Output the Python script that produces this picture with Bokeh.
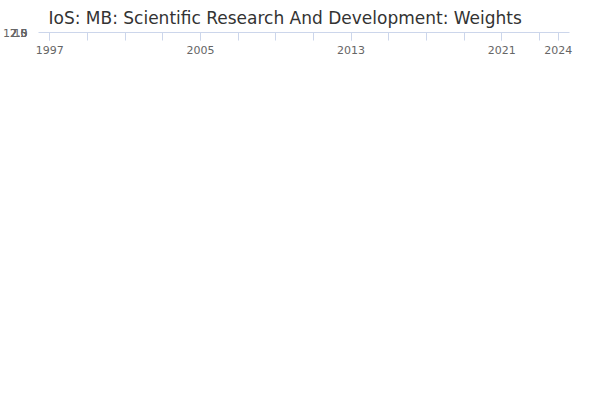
from bokeh.plotting import figure
from bokeh.embed import file_html
from bokeh.resources import INLINE
from bokeh.models import Legend, LegendItem, FixedTicker, Title, Range1d

years = list(range(1997, 2025))
values = [8.7, 8.2, 8.5, 7.6, 8.0, 9.6, 9.5, 10.2, 10.1, 9.7, 10.5, 10.8, 10.3, 11.7,
          10.7, 9.9, 7.9, 8.3, 8.7, 8.9, 8.6, 10.0, 9.8, 11.3, 10.6, 11.2, 11.2, 11.2]
xticks = [1997, 2005, 2013, 2021, 2024]
yticks = [0, 2.5, 5, 7.5, 10, 12.5]
ylabels = {0: "0", 2.5: "2.5", 5: "5", 7.5: "7.5", 10: "10", 12.5: "12.5"}
name = "IoS: MB: Scientific Research And Development: Weights"

p = figure(width=584, height=384, output_backend="svg", toolbar_location=None,
           x_range=Range1d(1996.4, 2024.6), y_range=Range1d(0, 12.9))
p.title.text = name
p.title.text_font = "DejaVu Sans"
p.title.text_font_size = "17px"
p.title.text_font_style = "normal"
p.title.text_color = "#333333"
p.title.offset = 10
r = p.line(years, values, line_color="#0a7cc1", line_width=2)
c = p.scatter(years, values, size=4, color="#0a7cc1")
p.xaxis.ticker = FixedTicker(ticks=xticks, minor_ticks=list(range(1997, 2025, 2)))
p.yaxis.ticker = FixedTicker(ticks=yticks)
p.yaxis.major_label_overrides = ylabels
p.xgrid.grid_line_color = None
p.ygrid.grid_line_color = "#e6e6e6"
p.yaxis.axis_line_color = None
p.yaxis.major_tick_line_color = None
p.yaxis.minor_tick_line_color = None
p.xaxis.axis_line_color = "#ccd6eb"
p.xaxis.major_tick_line_color = "#ccd6eb"
p.xaxis.minor_tick_line_color = "#ccd6eb"
p.xaxis.minor_tick_out = 8
p.xaxis.major_tick_out = 8
p.xaxis.minor_tick_in = 0
p.xaxis.major_tick_in = 0
for ax in (p.xaxis, p.yaxis):
    ax.major_label_text_font_size = "11px"
    ax.major_label_text_color = "#666666"
    ax.major_label_text_font = "DejaVu Sans"
p.outline_line_color = None
leg = Legend(items=[LegendItem(label=name, renderers=[r, c])], orientation="horizontal",
             label_text_font_size="13px", label_text_font_style="bold",
             label_text_font="DejaVu Sans", location=(60, 0),
             label_text_color="#333333", border_line_color=None, glyph_width=20,
             margin=14)
p.add_layout(leg, "below")
p.add_layout(Title(text="Source:", align="right", text_font_size="12px",
                   text_font="DejaVu Sans",
                   text_font_style="normal", text_color="#555555"), "below")
p.min_border_left = 30
p.min_border_right = 15
open("out.html", "w").write(file_html(p, INLINE))
